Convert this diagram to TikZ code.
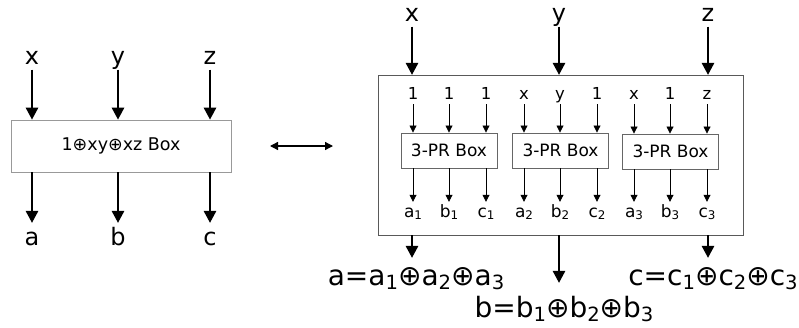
\documentclass[tikz,border=0pt]{standalone}
\usepackage{fontspec}
\setmainfont{DejaVu Sans}
\usetikzlibrary{arrows.meta}
\newcommand\sbs[1]{\raisebox{-0.3ex}{\scalebox{0.7}{#1}}}
\begin{document}
\begin{tikzpicture}[x=1pt,y=-1pt,
  biglbl/.style={font=\fontsize{24}{28}\selectfont, inner xsep=0pt, inner ysep=5.5pt,
    text height=13pt, text depth=0pt, anchor=base},
  outlbl/.style={font=\fontsize{24}{28}\selectfont, inner xsep=0pt, inner ysep=4pt,
    text height=18pt, text depth=0pt, anchor=base},
  smlbl/.style={font=\fontsize{16.5}{19}\selectfont, inner xsep=0pt, inner ysep=5pt,
    text height=12pt, text depth=0pt, anchor=base},
  sublbl/.style={font=\fontsize{17}{20}\selectfont, inner xsep=0pt, inner ysep=2pt,
    text height=13pt, text depth=0pt, anchor=base},
  eqlbl/.style={font=\fontsize{28}{33}\selectfont, inner xsep=0pt, inner ysep=12pt,
    text height=15pt, text depth=0pt, anchor=base},
  bigarrow/.style={line width=1.6pt, -{Triangle[length=12pt,width=12.5pt]}},
  smarrow/.style={line width=0.8pt, -{Triangle[length=7pt,width=7pt]}},
  dblarrow/.style={line width=1.3pt, {Triangle[length=8pt,width=8pt]}-{Triangle[length=8pt,width=8pt]}},
  prbox/.style={draw=black!60, line width=0.9pt, minimum width=96pt, minimum height=35pt,
    inner sep=0pt, font=\fontsize{17}{20}\selectfont}
]
\useasboundingbox (0,0) rectangle (799,327);

% ---- single box 1 (+) xy (+) xz ----
\node[draw=black!40, line width=0.9pt, minimum width=220pt, minimum height=52pt,
  font=\fontsize{17.5}{21}\selectfont] (L) at (121,146) {1⊕xy⊕xz Box};
\node[biglbl] (lx) at (32,64) {x};
\node[biglbl] (ly) at (118,64) {y};
\node[biglbl] (lz) at (210,64) {z};
\node[outlbl] (la) at (32,245) {a};
\node[outlbl] (lb) at (118,245) {b};
\node[outlbl] (lc) at (210,245) {c};
\foreach \i/\o in {lx/la, ly/lb, lz/lc}{
  \draw[bigarrow] (\i) -- (\i |- L.north);
  \draw[bigarrow] (L.south -| \o) -- (\o);
}

% ---- equivalence ----
\coordinate (dl) at (270,146);
\coordinate (dr) at (333,146);
\draw[dblarrow] (dl) -- (dr);

% ---- three 3-PR boxes ----
\draw[draw=black!65, line width=0.9pt] (378,75) rectangle (743,235);
\node[inner sep=0pt, minimum width=365pt, minimum height=160pt] (R) at (560.5,155) {};
\node[biglbl] (tx) at (412,21) {x};
\node[biglbl] (ty) at (559,21) {y};
\node[biglbl] (tz) at (708,21) {z};
\foreach \t in {tx,ty,tz}{ \draw[bigarrow] (\t) -- (\t |- R.north); }

\node[prbox] (P1) at (449,150.5) {3-PR Box};
\node[prbox] (P2) at (560.5,150.5) {3-PR Box};
\node[prbox] (P3) at (670.5,151.5) {3-PR Box};

\foreach \n/\x/\t/\o/\p in {
  11/413/1/a\sbs{1}/P1, 12/449/1/b\sbs{1}/P1, 13/486/1/c\sbs{1}/P1,
  21/524/x/a\sbs{2}/P2, 22/560/y/b\sbs{2}/P2, 23/597/1/c\sbs{2}/P2,
  31/634/x/a\sbs{3}/P3, 32/670/1/b\sbs{3}/P3, 33/707/z/c\sbs{3}/P3}{
  \node[smlbl] (i\n) at (\x,99) {\t};
  \node[sublbl] (o\n) at (\x,217) {\o};
  \draw[smarrow] (i\n) -- (i\n |- \p.north);
  \draw[smarrow] (\p.south -| o\n) -- (o\n);
}

% ---- XOR of the outputs ----
\node[eqlbl] (ea) at (416,285) {a=a\sbs{1}⊕a\sbs{2}⊕a\sbs{3}};
\node[eqlbl, inner ysep=19pt] (eb) at (564,317) {b=b\sbs{1}⊕b\sbs{2}⊕b\sbs{3}};
\node[eqlbl] (ec) at (713,285) {c=c\sbs{1}⊕c\sbs{2}⊕c\sbs{3}};
\draw[bigarrow] (R.south -| tx) -- (ea.north -| tx);
\draw[bigarrow] (R.south -| ty) -- (eb.north -| ty);
\draw[bigarrow] (R.south -| tz) -- (ec.north -| tz);
\end{tikzpicture}
\end{document}
